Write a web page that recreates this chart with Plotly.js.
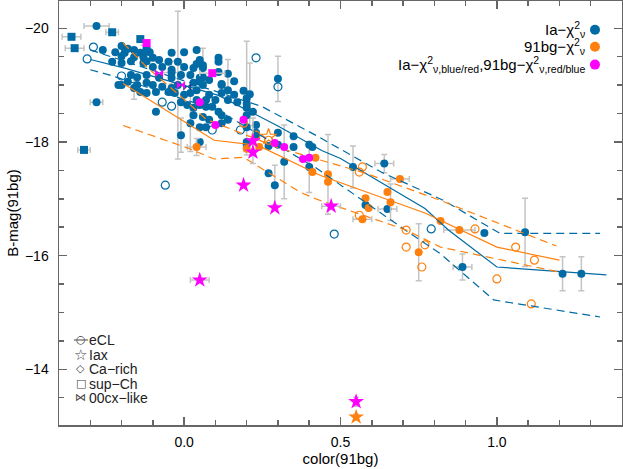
<!DOCTYPE html>
<html>
<head>
<meta charset="utf-8">
<script src="https://cdn.plot.ly/plotly-3.0.1.min.js"></script>
<style>body{margin:0;background:#fff}</style>
</head>
<body>
<div id="chart" style="width:623px;height:469px;"></div>
<script>
// colours
var BLUE = '#006BA4', ORANGE = '#FF800E', MAGENTA = '#FF00FF', ERR = '#c4c4c4';

// Ia chi2 fits, filled circles (no error bars drawn)
var iaX = [-0.26,-0.22,-0.20,-0.19,-0.18,-0.16,-0.14,-0.16,-0.13,-0.11,
  -0.12,-0.10,-0.08,-0.17,-0.20,-0.23,-0.13,-0.10,-0.07,-0.05,
  -0.04,-0.02,0.00,0.03,0.04,0.06,0.05,0.02,-0.01,-0.04,
  -0.08,-0.12,-0.15,-0.17,-0.18,-0.15,-0.12,-0.10,-0.07,-0.04,
  0.03,0.04,0.02,0.00,-0.03,-0.05,-0.09,-0.12,-0.14,-0.20,
  -0.21,-0.01,0.01,0.03,0.04,0.03,
  0.11,0.11,0.11,0.06,0.05,0.06,0.08,0.16,0.12,0.14,
  0.12,0.16,0.19,0.17,0.14,0.10,0.08,0.07,0.05,0.07,
  0.09,0.11,0.12,0.14,0.12,0.08,0.06,0.05,0.12,0.20,
  -0.20,-0.12,-0.04,0.00,0.04,0.05,
  -0.09,0.07,0.27,0.35,0.41,0.58,0.96,0.05,0.23,0.30,
  0.30,0.27,0.40,0.20,0.20,0.23,0.20,0.23,0.22,0.20,0.20,0.35];
var iaY = [-19.62,-19.58,-19.51,-19.57,-19.64,-19.62,-19.57,-19.49,-19.49,-19.58,
  -19.42,-19.48,-19.44,-19.42,-19.39,-19.41,-19.39,-19.32,-19.32,-19.41,
  -19.27,-19.41,-19.32,-19.30,-19.37,-19.30,-19.13,-19.18,-19.18,-19.13,
  -19.13,-19.18,-19.14,-19.18,-19.06,-19.00,-19.04,-19.00,-18.97,-18.95,
  -19.04,-18.91,-18.86,-18.83,-18.86,-18.88,-18.88,-18.86,-18.88,-19.00,
  -19.00,-18.70,-18.65,-18.60,-18.74,-18.47,
  -19.48,-19.41,-19.23,-19.14,-19.06,-19.00,-19.09,-19.07,-19.00,-18.91,
  -18.86,-18.83,-18.90,-18.70,-18.74,-18.74,-18.83,-18.74,-18.65,-18.62,
  -18.62,-18.53,-18.47,-18.39,-18.33,-18.39,-18.44,-18.26,-19.02,-18.67,
  -19.69,-19.65,-19.57,-19.58,-19.62,-19.44,
  -18.53,-18.26,-17.45,-18.10,-17.91,-16.89,-16.40,-18.00,-18.09,-18.16,
  -17.95,-17.93,-17.95,-18.00,-17.95,-18.16,-18.26,-18.30,-18.53,-18.60,-18.47,-17.91];

// Ia chi2 fits with error bars
var iaErrX  = [-0.28,-0.28,0.30,-0.01,0.02,0.29,0.32,0.40,0.54,0.64,0.65,0.89,1.09,1.21,1.27,-0.02,0.20,0.06,0.21,-0.13,-0.04,0.14,-0.16];
var iaErrY  = [-20.04,-18.70,-19.11,-18.12,-18.33,-17.24,-17.65,-17.56,-17.56,-17.62,-16.82,-15.80,-16.41,-15.68,-15.68,-19.00,-18.77,-19.35,-18.84,-19.55,-19.22,-19.20,-18.95];
var iaErrDx = [0.04,0.02,null,null,null,null,null,null,null,0.03,0.03,0.03,null,null,null,null,null,null,null,null,0.03,null,null];
var iaErrDy = [null,null,0.40,0.30,0.50,0.35,0.65,0.45,0.37,0.16,null,0.23,0.60,0.30,0.30,1.30,1.00,0.30,0.55,0.15,0.20,0.25,0.20];

// Ia: sup-Ch (squares), eCL (open circles), 00cx-like
var iaSqX = [-0.36,-0.35,-0.23,-0.14,-0.32];
var iaSqY = [-19.85,-19.65,-19.93,-19.81,-17.86];
var iaSqDx = [0.03,0.03,0.02,null,0.02];
var iaEclX = [-0.29,-0.31,-0.20,-0.07,-0.04,0.09,0.18,0.23,0.30,-0.06,0.48,0.79];
var iaEclY = [-19.67,-19.46,-19.16,-18.70,-18.63,-18.21,-18.21,-19.48,-18.97,-17.24,-16.38,-16.47];
var iaCxX = [0.01], iaCxY = [-18.97];

// 91bg chi2 fits
var bgX  = [0.04,0.20,0.24,0.41,0.42,0.46,0.46,0.69,0.65,0.66,0.58,0.59,0.57,0.82,0.88,0.75];
var bgY  = [-17.91,-17.88,-17.91,-17.47,-17.72,-17.43,-17.30,-17.35,-17.12,-16.94,-17.01,-16.84,-16.64,-16.61,-16.45,-16.06];
var bgDx = [0.03,null,null,null,null,null,null,0.03,null,null,null,null,0.03,null,0.05,null];
var bgDy = [0.15,null,null,null,null,0.70,null,null,null,0.32,null,null,null,null,null,0.50];
var bgEclX = [0.57,0.56,0.56,0.71,0.71,0.77,0.76,0.93,1.06,1.12,1.00,1.11,0.23,0.19,0.27];
var bgEclY = [-17.56,-17.47,-16.71,-16.45,-16.15,-16.19,-15.80,-16.47,-16.15,-15.92,-15.59,-15.15,-18.12,-18.33,-18.03];
var bgIaxOpenX = [0.27], bgIaxOpenY = [-18.09];
var bgIaxX = [0.55], bgIaxY = [-13.16], bgIaxDy = [0.05];

// mixed classification (magenta)
var mxX = [0.19,0.10,0.05,0.29,0.32,0.38,0.40];
var mxY = [-18.39,-18.30,-18.70,-17.98,-17.91,-17.70,-17.72];
var mxSqX = [-0.12,0.09], mxSqY = [-19.74,-19.21], mxSqDx = [null,0.04];
var mxIaxX = [0.19,0.29,0.22,0.22,0.47,0.05,0.55];
var mxIaxY = [-17.24,-16.84,-18.02,-17.82,-16.87,-15.57,-13.43];
var mxIaxDx = [null,null,null,null,0.03,0.03,null];
var mxIaxDy = [null,null,0.40,null,null,null,0.08];
var mxCxX = [-0.08,-0.01], mxCxY = [-19.21,-19.00];

// relations (mean and spread)
var iaMidX = [-0.30,-0.19,0.11,0.30,0.44,0.50,0.77,0.845,1.00,1.35];
var iaMidY = [-19.45,-19.30,-18.82,-18.28,-17.85,-17.71,-16.83,-16.45,-15.80,-15.66];
var iaHiX = [-0.30,0.00,0.25,0.42,0.63,0.83,1.01,1.33];
var iaHiY = [-19.62,-19.07,-18.62,-18.12,-17.47,-16.97,-16.39,-16.39];
var iaLoX = [-0.30,-0.24,0.11,0.42,0.72,0.82,0.99,1.33];
var iaLoY = [-19.27,-19.18,-18.55,-17.55,-16.40,-16.03,-15.22,-14.92];
var bgMidX = [-0.195,0.0,0.096,0.236,0.436,0.77,0.82,1.0,1.2];
var bgMidY = [-19.03,-18.36,-18.03,-17.94,-17.41,-16.75,-16.62,-16.15,-15.92];
var bgHiX = [-0.195,-0.12,0.0,0.07,0.30,0.58,0.82,1.19];
var bgHiY = [-19.74,-19.32,-18.75,-18.40,-17.90,-17.45,-16.97,-16.17];
var bgLoX = [-0.195,0.013,0.096,0.19,0.37,0.42,0.71,0.82,1.2];
var bgLoY = [-18.29,-17.89,-17.70,-17.73,-17.12,-17.00,-16.45,-16.15,-15.71];

function pts(x, y, color, symbol, size, dx, dy) {
  var t = {
    x: x, y: y, type: 'scatter', mode: 'markers', showlegend: false,
    marker: {color: color, symbol: symbol, size: size, line: {width: symbol.indexOf('open') >= 0 ? 1.2 : 0, color: color}}
  };
  if (dx) t.error_x = {type: 'data', array: dx, color: ERR, thickness: 1.5, width: 3};
  if (dy) t.error_y = {type: 'data', array: dy, color: ERR, thickness: 1.5, width: 3};
  return t;
}
function rel(x, y, color, dash) {
  return {x: x, y: y, type: 'scatter', mode: 'lines', showlegend: false,
    line: {color: color, width: 1.2, dash: dash}};
}

var data = [
  pts(iaErrX, iaErrY, BLUE, 'circle', 8, iaErrDx, iaErrDy),
  pts(iaX, iaY, BLUE, 'circle', 8),
  pts(iaSqX, iaSqY, BLUE, 'square', 8, iaSqDx),
  pts(iaEclX, iaEclY, BLUE, 'circle-open', 8),
  pts(iaCxX, iaCxY, '#1c3f87', 'bowtie', 8),
  pts(bgX, bgY, ORANGE, 'circle', 8, bgDx, bgDy),
  pts(bgEclX, bgEclY, ORANGE, 'circle-open', 8),
  pts(bgIaxOpenX, bgIaxOpenY, ORANGE, 'star-open', 12),
  pts(bgIaxX, bgIaxY, ORANGE, 'star', 12, null, bgIaxDy),
  rel(iaMidX, iaMidY, BLUE, 'solid'),
  rel(iaHiX, iaHiY, BLUE, '8px,5px'),
  rel(iaLoX, iaLoY, BLUE, '8px,5px'),
  rel(bgMidX, bgMidY, ORANGE, 'solid'),
  rel(bgHiX, bgHiY, ORANGE, '8px,5px'),
  rel(bgLoX, bgLoY, ORANGE, '8px,5px'),
  pts(mxX, mxY, MAGENTA, 'circle', 8),
  pts(mxSqX, mxSqY, MAGENTA, 'square', 8, mxSqDx),
  pts(mxIaxX, mxIaxY, MAGENTA, 'star', 12, mxIaxDx, mxIaxDy),
  pts(mxCxX, mxCxY, MAGENTA, 'bowtie', 8)
];

// legends
var fitLabels = ['Ia\u2212\u03c7<sup>2</sup><sub>\u03bd</sub>', '91bg\u2212\u03c7<sup>2</sup><sub>\u03bd</sub>',
  'Ia\u2212\u03c7<sup>2</sup><sub>\u03bd,blue/red</sub>,91bg\u2212\u03c7<sup>2</sup><sub>\u03bd,red/blue</sub>'];
var fitColors = [BLUE, ORANGE, MAGENTA];
var fitRows = [0.932, 0.892, 0.850];
var typeLabels = ['eCL', 'Iax', 'Ca\u2212rich', 'sup\u2212Ch', '00cx\u2212like'];
var typeGlyphs = ['\u25cb', '\u2606', '\u25c7', '\u25a1', '\u22c8'];
var typeRows = [0.2005, 0.1651, 0.1321, 0.0967, 0.0637];

var annotations = [], shapes = [];
fitLabels.forEach(function (txt, i) {
  annotations.push({xref: 'paper', yref: 'paper', x: 0.938, y: fitRows[i], xanchor: 'right', yanchor: 'middle',
    text: txt, showarrow: false, font: {size: 15, color: '#000'}});
  shapes.push({type: 'circle', xref: 'paper', yref: 'paper', xsizemode: 'pixel', ysizemode: 'pixel',
    xanchor: 0.952, yanchor: fitRows[i], x0: -5, x1: 5, y0: -5, y1: 5,
    fillcolor: fitColors[i], line: {width: 0}});
});
typeLabels.forEach(function (txt, i) {
  annotations.push({xref: 'paper', yref: 'paper', x: 0.0497, y: typeRows[i], xanchor: 'left', yanchor: 'middle',
    text: txt, showarrow: false, font: {size: 14, color: '#222'}});
  annotations.push({xref: 'paper', yref: 'paper', x: 0.039, y: typeRows[i], xanchor: 'center', yanchor: 'middle',
    text: typeGlyphs[i], showarrow: false, font: {family: 'DejaVu Sans', size: i == 1 ? 15 : 11, color: '#444'}});
});
shapes.push({type: 'line', xref: 'paper', yref: 'paper', xsizemode: 'pixel', ysizemode: 'pixel',
  xanchor: 0.039, yanchor: typeRows[0], x0: -7, x1: 7, y0: 0, y1: 0, line: {color: '#444', width: 1}});

var axisStyle = {
  showline: true, linecolor: '#666', linewidth: 1.5, mirror: 'allticks',
  ticks: 'inside', ticklen: 8, tickcolor: '#666', tickwidth: 1.5,
  showgrid: false, zeroline: false, tickfont: {size: 14, color: '#000'}
};

var layout = {
  width: 623, height: 469,
  margin: {l: 59, r: 1, t: 1, b: 44},
  paper_bgcolor: '#fff', plot_bgcolor: '#fff',
  font: {family: 'Liberation Sans, Arial, sans-serif', color: '#000'},
  xaxis: Object.assign({}, axisStyle, {
    range: [-0.4, 1.4], tick0: 0, dtick: 0.5, tickformat: '.1f', ticklabelstandoff: 4,
    minor: {dtick: 0.1, ticks: 'inside', ticklen: 5, tickcolor: '#666'},
    title: {text: 'color(91bg)', font: {size: 15}, standoff: 0}
  }),
  yaxis: Object.assign({}, axisStyle, {
    range: [-13.02, -20.48], tick0: -20, dtick: 2, ticklabelstandoff: 6,
    minor: {dtick: 0.5, ticks: 'inside', ticklen: 5, tickcolor: '#666'},
    title: {text: 'B-mag(91bg)', font: {size: 15}, standoff: 2}
  }),
  annotations: annotations,
  shapes: shapes
};

Plotly.newPlot('chart', data, layout, {displayModeBar: false, staticPlot: true});
</script>
</body>
</html>
